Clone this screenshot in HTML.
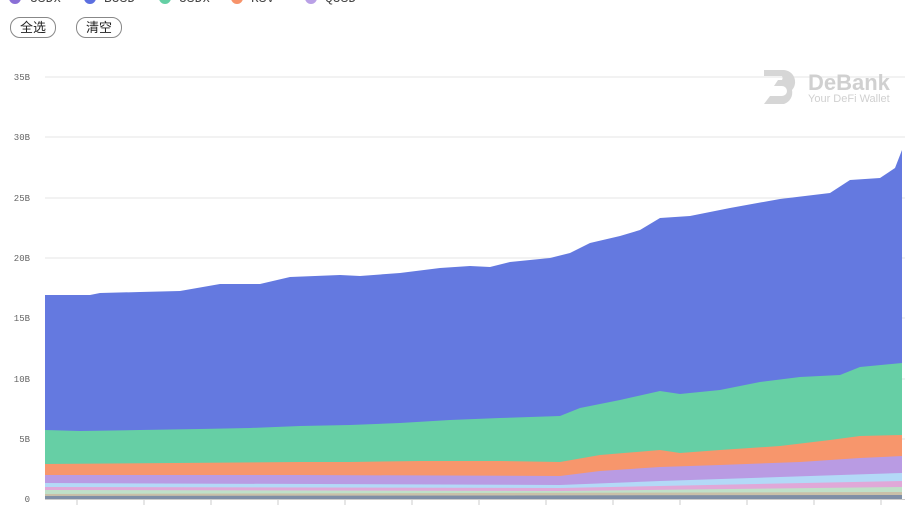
<!DOCTYPE html>
<html><head><meta charset="utf-8"><style>
body{margin:0;width:916px;height:512px;overflow:hidden;background:#fff;font-family:"Liberation Sans","Noto Sans CJK SC",sans-serif}
.btn{position:absolute;top:17px;height:19px;border:1px solid #888;border-radius:10px;font-size:13px;line-height:19px;text-align:center;color:#222}
</style></head><body>
<svg width="916" height="512" style="position:absolute;left:0;top:0">
<g font-family="Liberation Mono,monospace" font-size="13" fill="#444">
<circle cx="15" cy="-2" r="6" fill="#8a6fd6"/><text x="30" y="2">USDx</text>
<circle cx="90" cy="-2" r="6" fill="#5b6fe0"/><text x="104" y="2">BUSD</text>
<circle cx="165" cy="-2" r="6" fill="#64cfa4"/><text x="179" y="2">USDx</text>
<circle cx="237" cy="-2" r="6" fill="#f7936a"/><text x="251" y="2">RSV</text>
<circle cx="311" cy="-2" r="6" fill="#b9a0e6"/><text x="325" y="2">QUSD</text>
</g>
<g stroke="#e6e6e6" stroke-width="1">
<line x1="45" x2="905" y1="77" y2="77"/><line x1="45" x2="905" y1="137" y2="137"/><line x1="45" x2="905" y1="198" y2="198"/><line x1="45" x2="905" y1="258" y2="258"/><line x1="45" x2="905" y1="318" y2="318"/><line x1="45" x2="905" y1="379" y2="379"/><line x1="45" x2="905" y1="439" y2="439"/>
</g>
<g font-family="Liberation Mono,monospace" font-size="9" fill="#666" text-anchor="end">
<text x="30" y="80">35B</text><text x="30" y="140">30B</text><text x="30" y="201">25B</text><text x="30" y="261">20B</text><text x="30" y="321">15B</text><text x="30" y="382">10B</text><text x="30" y="442">5B</text><text x="30" y="502">0</text>
</g>
<g font-family="Liberation Sans,sans-serif" fill="#d0d0d0">
<text x="808" y="90" font-size="22" font-weight="bold">DeBank</text>
<text x="808" y="102" font-size="11">Your DeFi Wallet</text>
<path d="M764 70h20a12 12 0 0 1 8 20a12 12 0 0 1-8 14h-20l6-8h12a5 5 0 0 0 0-10h-8l4-6h4a4 4 0 0 0 0-4h-18z" fill="#d6d6d6"/>
</g>
<path fill="#6479e0" d="M45 295L90 295L100 293L140 292L180 291L220 284L260 284L290 277L340 275L360 276L400 273L440 268L470 266L490 267L510 262L550 258L570 253L590 243L620 236L640 230L660 218L690 216L730 208L780 199L830 193L850 180L880 178L895 168L902 150L902 499L45 499Z"/>
<path fill="#66cfa5" d="M45 430L80 431L140 430L200 429L250 428L300 426L350 425L400 423L450 420L500 418L560 416L580 408L620 400L660 391L680 394L720 390L760 382L800 377L840 375L860 367L902 363L902 499L45 499Z"/>
<path fill="#f7966c" d="M45 464L300 462L350 462L420 461L500 461L560 462L600 455L660 450L680 453L720 450L780 446L830 440L860 436L902 435L902 499L45 499Z"/>
<path fill="#b99be3" d="M45 475L300 475L560 476L600 471L660 467L720 465L800 462L860 458L902 456L902 499L45 499Z"/>
<path fill="#b3d9f7" d="M45 483L560 485L660 481L780 477L902 473L902 499L45 499Z"/>
<path fill="#e0a8d8" d="M45 487L560 488L902 481L902 499L45 499Z"/>
<path fill="#bfe0c8" d="M45 490L560 491L902 487L902 499L45 499Z"/>
<path fill="#c9c0a8" d="M45 494L902 492L902 499L45 499Z"/>
<path fill="#7f8fa6" d="M45 496L902 495L902 499L45 499Z"/>
<line x1="45" x2="905" y1="499.5" y2="499.5" stroke="#ccc"/>
<g stroke="#ccc"><line x1="77" x2="77" y1="499" y2="505"/><line x1="144" x2="144" y1="499" y2="505"/><line x1="211" x2="211" y1="499" y2="505"/><line x1="278" x2="278" y1="499" y2="505"/><line x1="345" x2="345" y1="499" y2="505"/><line x1="412" x2="412" y1="499" y2="505"/><line x1="479" x2="479" y1="499" y2="505"/><line x1="546" x2="546" y1="499" y2="505"/><line x1="613" x2="613" y1="499" y2="505"/><line x1="680" x2="680" y1="499" y2="505"/><line x1="747" x2="747" y1="499" y2="505"/><line x1="814" x2="814" y1="499" y2="505"/><line x1="881" x2="881" y1="499" y2="505"/></g>
</svg>
<div class="btn" style="left:10px;width:44px">全选</div>
<div class="btn" style="left:76px;width:44px">清空</div>
</body></html>
